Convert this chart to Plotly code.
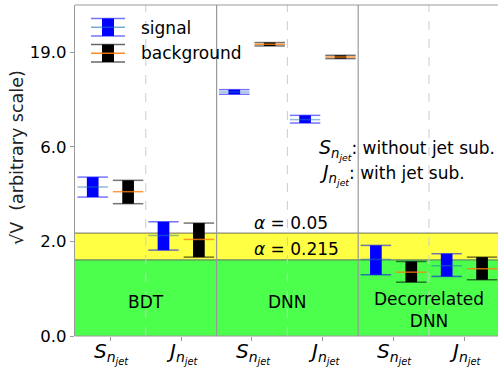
import plotly.graph_objects as go

# ---- data (transformed sqrt-like axis units; tick labels below) ----
categories = ["BDT S", "BDT J", "DNN S", "DNN J", "DecDNN S", "DecDNN J"]
tick_labels = ["<i>S</i><sub><i>n</i><sub><i>jet</i></sub></sub>",
               "<i>J</i><sub><i>n</i><sub><i>jet</i></sub></sub>"] * 3
sig_low = [1.469, 0.908, 2.556, 2.252, 0.648, 0.630]
sig_high = [1.680, 1.208, 2.605, 2.333, 0.958, 0.870]
sig_med = [1.575, 1.063, 2.580, 2.288, 0.810, 0.743]
bkg_low = [1.399, 0.834, 3.067, 2.933, 0.569, 0.595]
bkg_high = [1.646, 1.194, 3.103, 2.968, 0.788, 0.834]
bkg_med = [1.526, 1.021, 3.085, 2.950, 0.675, 0.711]
y_tickvals = [0, 1, 2, 3]
y_ticktext = ["0.0", "2.0", "6.0", "19.0"]
alpha_005 = 1.088
alpha_0215 = 0.806
panel_names = ["BDT", "DNN", "Decorrelated<br>DNN"]

FONT = "DejaVu Sans"
W, H = 498, 369
ML, MR, MT, MB = 75, 0, 5, 33
XR = [0, 5.975]
YR = [0, 3.5]

fig = go.Figure()

n = len(categories)
centers = [i + 0.5 for i in range(n)]
box_w = 0.165
cap_half = 0.215


def add_group(offset, low, high, med, box_color, cap_color, med_color):
    xs = [c + offset for c in centers]
    fig.add_trace(go.Bar(x=xs, base=low, y=[h - l for h, l in zip(high, low)],
                         width=box_w, marker=dict(color=box_color, line=dict(width=0)),
                         showlegend=False, hoverinfo="skip"))
    cx, cy = [], []
    for x, l, h in zip(xs, low, high):
        cx += [x - cap_half, x + cap_half, None, x - cap_half, x + cap_half, None]
        cy += [l, l, None, h, h, None]
    fig.add_trace(go.Scatter(x=cx, y=cy, mode="lines", line=dict(color=cap_color, width=1.5),
                             showlegend=False, hoverinfo="skip"))
    mx, my = [], []
    for x, m in zip(xs, med):
        mx += [x - cap_half, x + cap_half, None]
        my += [m, m, None]
    fig.add_trace(go.Scatter(x=mx, y=my, mode="lines", line=dict(color=med_color, width=1.5),
                             showlegend=False, hoverinfo="skip"))


add_group(-0.25, sig_low, sig_high, sig_med, "#0000ff", "rgba(0,0,255,0.55)", "rgba(31,119,180,0.5)")
add_group(0.25, bkg_low, bkg_high, bkg_med, "#000000", "rgba(0,0,0,0.55)", "rgba(255,127,14,0.8)")

shapes = []
# bands
shapes.append(dict(type="rect", xref="x", yref="y", x0=XR[0], x1=XR[1], y0=alpha_0215, y1=alpha_005,
                   fillcolor="#ffff44", line=dict(width=0), layer="below"))
shapes.append(dict(type="rect", xref="x", yref="y", x0=XR[0], x1=XR[1], y0=0, y1=alpha_0215,
                   fillcolor="#4cff4c", line=dict(width=0), layer="below"))
for yv in (alpha_005, alpha_0215):
    shapes.append(dict(type="line", xref="x", yref="y", x0=XR[0], x1=XR[1], y0=yv, y1=yv,
                       line=dict(color="rgba(90,90,90,0.7)", width=1.2), layer="below"))
# separators
for xv in (2, 4):
    shapes.append(dict(type="line", xref="x", yref="paper", x0=xv, x1=xv, y0=0, y1=1,
                       line=dict(color="#999999", width=1.2)))
for xv in (1, 3, 5):
    shapes.append(dict(type="line", xref="x", yref="paper", x0=xv, x1=xv, y0=0, y1=1,
                       line=dict(color="#cccccc", width=1, dash="dash")))
# frame top & bottom
shapes.append(dict(type="line", xref="paper", yref="paper", x0=0, x1=1, y0=1, y1=1,
                   line=dict(color="#999999", width=1.2)))
shapes.append(dict(type="line", xref="paper", yref="paper", x0=0, x1=1, y0=0, y1=0,
                   line=dict(color="#999999", width=1.2)))

# legend drawn by hand (pixel -> paper)
PW = W - ML - MR
PH = H - MT - MB


def px(x):
    return (x - ML) / PW


def py(y):
    return (H - MB - y) / PH


def legend_icon(ytop, ybot, ymed, box_color, cap_color, med_color):
    shapes.append(dict(type="rect", xref="paper", yref="paper", x0=px(102), x1=px(114),
                       y0=py(ybot), y1=py(ytop), fillcolor=box_color, line=dict(width=0)))
    for yv, col in ((ytop, cap_color), (ybot, cap_color), (ymed, med_color)):
        shapes.append(dict(type="line", xref="paper", yref="paper", x0=px(91), x1=px(125),
                           y0=py(yv), y1=py(yv), line=dict(color=col, width=1.5)))


legend_icon(18.5, 36, 27.3, "#0000ff", "rgba(0,0,255,0.55)", "rgba(31,119,180,0.6)")
legend_icon(44.5, 62, 53.3, "#000000", "rgba(0,0,0,0.6)", "rgba(255,127,14,0.9)")

annotations = []
tf = dict(family=FONT, size=17, color="black")
annotations.append(dict(xref="paper", yref="paper", x=px(139), y=py(27.5), text="signal",
                        showarrow=False, xanchor="left", yanchor="middle", font=tf))
annotations.append(dict(xref="paper", yref="paper", x=px(139), y=py(53.5), text="background",
                        showarrow=False, xanchor="left", yanchor="middle", font=tf))
# y axis title
annotations.append(dict(xref="paper", yref="paper", x=px(17), y=py(158), text="√V  (arbitrary scale)",
                        showarrow=False, textangle=-90, xanchor="center", yanchor="middle",
                        font=dict(family=FONT, size=17.5, color="#222222")))
# x tick labels (placed as text just below the axis)
for c, lab in zip(centers, tick_labels):
    annotations.append(dict(xref="x", yref="paper", x=c + 0.02, y=py(337), text=lab,
                            showarrow=False, xanchor="center", yanchor="top",
                            font=dict(family=FONT, size=20, color="black")))
# panel names
annotations.append(dict(x=1.0, y=0.36, text=panel_names[0], showarrow=False, font=tf))
annotations.append(dict(x=3.0, y=0.36, text=panel_names[1], showarrow=False, font=tf))
annotations.append(dict(x=5.0, y=0.27, text=panel_names[2], showarrow=False, font=tf))
# alpha labels
annotations.append(dict(x=2.5, y=1.198, text="<i>α</i> = 0.05", showarrow=False,
                        xanchor="left", font=tf))
annotations.append(dict(x=2.5, y=0.92, text="<i>α</i> = 0.215", showarrow=False,
                        xanchor="left", font=tf))
# explanation
annotations.append(dict(x=3.42, y=1.967,
                        text='<span style="font-size:19px">' + tick_labels[0] + "</span>: without jet sub.",
                        showarrow=False, xanchor="left", font=tf))
annotations.append(dict(x=3.42, y=1.713,
                        text='<span style="font-size:19px">' + tick_labels[1] + "</span>: with jet sub.",
                        showarrow=False, xanchor="left", font=tf))

fig.update_layout(
    width=W, height=H,
    margin=dict(l=ML, r=MR, t=MT, b=MB, autoexpand=False),
    plot_bgcolor="white", paper_bgcolor="white",
    barmode="overlay", showlegend=False,
    shapes=shapes, annotations=annotations,
    font=dict(family=FONT, size=17, color="black"),
    xaxis=dict(range=XR, tickvals=centers, showticklabels=False, ticks="outside", ticklen=4,
               tickcolor="#999999", showline=False, showgrid=False, zeroline=False,
               automargin=False),
    yaxis=dict(range=YR, tickvals=y_tickvals, ticktext=y_ticktext, ticks="outside", ticklen=4,
               tickcolor="#999999", showline=True, linecolor="#999999", linewidth=1.2,
               automargin=False, showgrid=False, zeroline=False, tickfont=dict(family=FONT, size=16.5)),
)

fig.write_html("out.html")
